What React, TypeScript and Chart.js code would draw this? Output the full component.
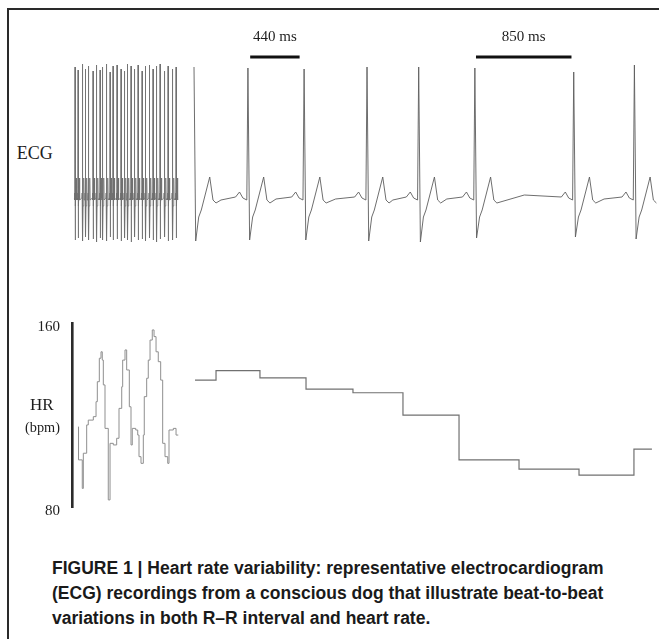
import React, { useEffect, useRef } from 'react';
import { Chart, registerables } from 'chart.js';

Chart.register(...registerables);

// ---------------- DATA ----------------
// ECG, compressed recording (left block): R-peak times (s), R amplitude and S depth (mV)
const ecgLeftRTimesS = [0.25, 0.63, 1.19, 1.56, 1.94, 2.5, 2.94, 3.38, 3.69, 4.19, 4.63, 5.0, 5.5, 6.0, 6.44, 6.81, 7.25, 7.69, 8.13, 8.63, 9.06, 9.56, 10.0, 10.44, 10.88, 11.44, 11.88, 12.44, 12.88];
const ecgLeftRAmpMv = [1.33, 1.3, 1.36, 1.31, 1.34, 1.29, 1.35, 1.3, 1.33, 1.36, 1.28, 1.34, 1.35, 1.31, 1.29, 1.36, 1.34, 1.31, 1.35, 1.29, 1.34, 1.35, 1.31, 1.34, 1.36, 1.29, 1.34, 1.31, 1.33];
const ecgLeftSDepthMv = [-0.4, -0.38, -0.41, -0.37, -0.4, -0.39, -0.42, -0.38, -0.4, -0.41, -0.37, -0.4, -0.39, -0.41, -0.38, -0.4, -0.42, -0.37, -0.4, -0.39, -0.41, -0.38, -0.4, -0.42, -0.39, -0.37, -0.41, -0.4, -0.38];
const ecgLeftSOffsetS = 0.03;
const ecgLeftAfterROffsetsS = [0.07, 0.15, 0.2];
const ecgLeftAfterRValuesMv = [-0.06, 0.22, 0.0];
const ecgLeftPreROffsetsS = [-0.08, -0.05, -0.02];
const ecgLeftPreRValuesMv = [0.02, 0.07, 0.0];

// ECG, real-time recording (right block): R-peak times (ms)
const ecgRightRTimesMs = [0, 480, 980, 1540, 2000, 2500, 3380, 3920];
const ecgRightRAmpMv = [1.33, 1.32, 1.31, 1.33, 1.33, 1.32, 1.28, 1.35];
const ecgRightSDepthMv = [-0.41, -0.4, -0.4, -0.41, -0.42, -0.38, -0.37, -0.39];
const ecgRightSOffsetMs = 15;
const ecgRightAfterROffsetsMs = [42, 65, 140, 169, 196];
const ecgRightAfterRValuesMv = [-0.17, -0.1, 0.23, 0.0, -0.03];
const ecgRightPreROffsetsMs = [-110, -75, -45, -10];
const ecgRightPreRValuesMv = [0.03, 0.08, 0.02, 0.0];
const ecgRightMidBaselineMv = [0.0, 0.01, 0.01, 0.0, 0.01, 0.05, 0.01];

// R-R scale bars
const scaleBarStartsMs = [500, 2510];
const scaleBarDurationsMs = [440, 850];
const scaleBarLabels = ['440 ms', '850 ms'];
const scaleBarLevelMv = 1.43;

// Heart rate (bpm), compressed block: step start times (s)
const hrLeftTimesS = [0.66, 0.69, 1.16, 1.29, 1.71, 1.91, 2.54, 2.88, 3.04, 3.29, 3.5, 3.66, 3.79, 4.0, 4.41, 4.63, 5.04, 5.46, 5.75, 6.09, 6.21, 6.5, 6.71, 7.04, 7.25, 7.41, 7.84, 8.09, 8.25, 8.5, 8.79, 8.91, 9.21, 9.41, 9.63, 9.91, 10.13, 10.38, 10.66, 10.96, 11.21, 11.5, 11.84, 12.0, 12.54, 12.88, 13.16];
const hrLeftBpm = [115.1, 100.7, 88.3, 103.6, 115.9, 118.0, 119.5, 126.0, 134.7, 144.9, 147.7, 144.1, 133.3, 114.4, 83.3, 107.9, 107.2, 110.1, 123.1, 132.5, 144.1, 148.5, 139.8, 123.8, 107.2, 114.4, 113.7, 111.5, 102.1, 99.2, 111.5, 128.2, 136.2, 144.1, 152.8, 157.2, 154.3, 147.7, 143.4, 135.4, 107.9, 102.1, 99.2, 113.7, 114.4, 111.5, 111.5];

// Heart rate (bpm), real-time block: step start times (ms)
const hrRightTimesMs = [9, 196, 587, 997, 1415, 1860, 2359, 2893, 3427, 3916, 4076];
const hrRightBpm = [135.4, 139.5, 136.4, 131.5, 129.9, 120.2, 100.7, 96.7, 94.1, 105.4, 105.4];

const hrTickValues = [80, 160];

// ---------------- BUILDERS ----------------
type P = { x: number; y: number };

function buildLeftEcg(): P[] {
  const pts: P[] = [];
  ecgLeftRTimesS.forEach((t, i) => {
    ecgLeftPreROffsetsS.forEach((o, k) => pts.push({ x: t + o, y: ecgLeftPreRValuesMv[k] }));
    pts.push({ x: t, y: ecgLeftRAmpMv[i] });
    pts.push({ x: t + ecgLeftSOffsetS, y: ecgLeftSDepthMv[i] });
    ecgLeftAfterROffsetsS.forEach((o, k) => pts.push({ x: t + o, y: ecgLeftAfterRValuesMv[k] }));
  });
  return pts;
}

function buildRightEcg(): P[] {
  const pts: P[] = [];
  ecgRightRTimesMs.forEach((t, i) => {
    if (i > 0) {
      const prev = ecgRightRTimesMs[i - 1];
      pts.push({ x: (prev + t) / 2, y: ecgRightMidBaselineMv[i - 1] });
      ecgRightPreROffsetsMs.forEach((o, k) => pts.push({ x: t + o, y: ecgRightPreRValuesMv[k] }));
    }
    pts.push({ x: t, y: ecgRightRAmpMv[i] });
    pts.push({ x: t + ecgRightSOffsetMs, y: ecgRightSDepthMv[i] });
    ecgRightAfterROffsetsMs.forEach((o, k) => pts.push({ x: t + o, y: ecgRightAfterRValuesMv[k] }));
  });
  return pts;
}

const zip = (xs: number[], ys: number[]): P[] => xs.map((x, i) => ({ x, y: ys[i] }));

// ---------------- STYLE ----------------
const SERIF = '"Liberation Serif", "Times New Roman", serif';
const TEXT = '#1e1e1e';

// shared horizontal mapping of both panels
const X_COMPRESSED = { min: -0.125, max: 73.25 };
const X_REAL = { min: -1086, max: 4139 };

const barLabelPlugin = {
  id: 'barLabels',
  afterDatasetsDraw(chart: any) {
    const { ctx, scales } = chart;
    ctx.save();
    ctx.font = `15px ${SERIF}`;
    ctx.fillStyle = TEXT;
    ctx.textAlign = 'center';
    ctx.textBaseline = 'middle';
    scaleBarLabels.forEach((lab, i) => {
      const x = scales.xr.getPixelForValue(scaleBarStartsMs[i] + scaleBarDurationsMs[i] / 2);
      const y = scales.y.getPixelForValue(scaleBarLevelMv) - 19.5;
      ctx.fillText(lab, x, y);
    });
    ctx.restore();
  },
};

function EcgChart() {
  const ref = useRef<HTMLCanvasElement>(null);
  useEffect(() => {
    if (!ref.current) return;
    const barSets = scaleBarStartsMs.map((s, i) => ({
      data: [
        { x: s, y: scaleBarLevelMv },
        { x: s + scaleBarDurationsMs[i], y: scaleBarLevelMv },
      ],
      xAxisID: 'xr',
      yAxisID: 'y',
      borderColor: '#111',
      borderWidth: 3,
      pointRadius: 0,
      borderCapStyle: 'butt',
    }));
    const chart = new Chart(ref.current, {
      type: 'line',
      data: {
        datasets: [
          { data: buildLeftEcg(), xAxisID: 'xc', yAxisID: 'y', borderColor: '#6e6e6e', borderWidth: 0.8, pointRadius: 0, tension: 0 },
          { data: buildRightEcg(), xAxisID: 'xr', yAxisID: 'y', borderColor: '#5e5e5e', borderWidth: 0.9, pointRadius: 0, tension: 0 },
          ...barSets,
        ] as any,
      },
      options: {
        animation: false,
        responsive: false,
        maintainAspectRatio: false,
        events: [],
        layout: { padding: 0 },
        plugins: { legend: { display: false }, tooltip: { enabled: false } },
        scales: {
          xc: { type: 'linear', display: false, ...X_COMPRESSED },
          xr: { type: 'linear', display: false, ...X_REAL },
          y: { type: 'linear', display: false, min: -0.6, max: 2.0 },
        },
      } as any,
      plugins: [barLabelPlugin],
    });
    return () => chart.destroy();
  }, []);
  return (
    <canvas
      ref={ref}
      width={587}
      height={260}
      style={{ position: 'absolute', left: 72, top: 0, width: 587, height: 260 }}
    />
  );
}

function HrChart() {
  const ref = useRef<HTMLCanvasElement>(null);
  useEffect(() => {
    if (!ref.current) return;
    const chart = new Chart(ref.current, {
      type: 'line',
      data: {
        datasets: [
          { data: zip(hrLeftTimesS, hrLeftBpm), xAxisID: 'xc', yAxisID: 'y', borderColor: '#8f8f8f', borderWidth: 1, pointRadius: 0, stepped: 'before' },
          { data: zip(hrRightTimesMs, hrRightBpm), xAxisID: 'xr', yAxisID: 'y', borderColor: '#707070', borderWidth: 1.2, pointRadius: 0, stepped: 'before' },
        ] as any,
      },
      options: {
        animation: false,
        responsive: false,
        maintainAspectRatio: false,
        events: [],
        layout: { padding: { top: 23.5, bottom: 22.5, left: 0, right: 0 } },
        plugins: { legend: { display: false }, tooltip: { enabled: false } },
        scales: {
          xc: { type: 'linear', display: false, ...X_COMPRESSED },
          xr: { type: 'linear', display: false, ...X_REAL },
          y: {
            type: 'linear',
            position: 'left',
            min: 80,
            max: 160,
            afterBuildTicks: (scale: any) => {
              scale.ticks = hrTickValues.map((v) => ({ value: v }));
            },
            afterFit: (scale: any) => {
              scale.width = 72;
            },
            grid: { display: false },
            border: { display: true, color: '#2b2b2b', width: 2.6 },
            ticks: { font: { family: SERIF, size: 15 }, color: TEXT, padding: 4, labelOffset: 4 },
          },
        },
      } as any,
    });
    return () => chart.destroy();
  }, []);
  return (
    <canvas
      ref={ref}
      width={659}
      height={230}
      style={{ position: 'absolute', left: 0, top: 300, width: 659, height: 230 }}
    />
  );
}

function SerifLabel({ text, size, left, baseline }: { text: string; size: number; left: number; baseline: number }) {
  return (
    <div
      style={{
        position: 'absolute',
        left,
        top: baseline - 0.8375 * size,
        fontFamily: SERIF,
        fontSize: size,
        lineHeight: 1,
        color: TEXT,
        whiteSpace: 'nowrap',
      }}
    >
      {text}
    </div>
  );
}

const captionLines = [
  'FIGURE 1 | Heart rate variability: representative electrocardiogram',
  '(ECG) recordings from a conscious dog that illustrate beat-to-beat',
  'variations in both R\u2013R interval and heart rate.',
];

export default function App() {
  return (
    <div style={{ position: 'absolute', left: 0, top: 0, width: 659, height: 639, background: '#fff', overflow: 'hidden' }}>
      <div
        style={{
          position: 'absolute',
          left: 7,
          top: 8,
          width: 700,
          height: 700,
          borderLeft: '2px solid #2a2a2a',
          borderTop: '2px solid #2a2a2a',
        }}
      />
      <EcgChart />
      <HrChart />
      <SerifLabel text="ECG" size={18} left={16.7} baseline={159.3} />
      <SerifLabel text="HR" size={17} left={30} baseline={410} />
      <SerifLabel text="(bpm)" size={14.3} left={25} baseline={431.7} />
      <div
        style={{
          position: 'absolute',
          left: 52,
          top: 556.3,
          fontFamily: '"Liberation Sans Narrow", "Arial Narrow", sans-serif',
          fontWeight: 700,
          fontSize: 17.5,
          lineHeight: '25px',
          color: '#1a1a1a',
          whiteSpace: 'nowrap',
        }}
      >
        {captionLines.map((l, i) => (
          <div key={i}>{l}</div>
        ))}
      </div>
    </div>
  );
}
